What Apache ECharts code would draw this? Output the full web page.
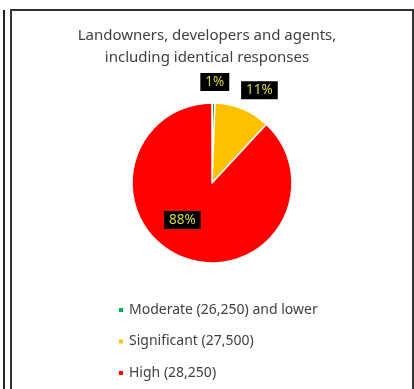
<!DOCTYPE html>
<html><head><meta charset="utf-8">
<script src="https://cdn.jsdelivr.net/npm/echarts@6/dist/echarts.min.js"></script>
<style>html,body{margin:0;padding:0;background:#fff}#c{width:414px;height:389px}</style>
</head><body><div id="c"></div>
<script>
const categories = ['Moderate (26,250) and lower', 'Significant (27,500)', 'High (28,250)'];
const values = [0.6, 11.3, 88.1];
const percentLabels = ['1%', '11%', '88%'];
const colors = ['#00b050', '#ffc000', '#ff0000'];
const labelOffsets = [[2, -58], [31, -53], [-14, -3]];

const chart = echarts.init(document.getElementById('c'), null, {renderer: 'canvas'});
chart.setOption({
  backgroundColor: '#fff',
  animation: false,
  graphic: [
    {type: 'line', shape: {x1: 4, y1: 10, x2: 4, y2: 389}, style: {stroke: '#222', lineWidth: 2}},
    {type: 'rect', shape: {x: 11, y: 10, width: 402, height: 400}, style: {fill: 'none', stroke: '#333', lineWidth: 2}}
  ],
  title: {
    text: 'Landowners, developers and agents,\nincluding identical responses',
    left: 'center', top: 20,
    textStyle: {fontFamily: 'Noto Sans', fontSize: 15, fontWeight: 'normal', color: '#404040', lineHeight: 22}
  },
  legend: {
    orient: 'vertical', left: 117, top: 301, padding: 0, height: 88,
    itemWidth: 6, itemHeight: 6, icon: 'rect', itemGap: 13.5,
    textStyle: {fontFamily: 'Noto Sans', fontSize: 14, color: '#404040', lineHeight: 18},
    data: categories
  },
  series: [{
    type: 'pie',
    center: [212, 183], radius: 80,
    startAngle: 90, clockwise: true,
    itemStyle: {borderColor: '#fff', borderWidth: 1.5},
    label: {
      show: true, position: 'inside',
      formatter: p => percentLabels[p.dataIndex],
      backgroundColor: '#000', color: '#d4d83c',
      fontFamily: 'Noto Sans', fontSize: 13.5, padding: [2, 5, 2, 5]
    },
    labelLine: {show: false},
    labelLayout: p => ({dx: labelOffsets[p.dataIndex][0], dy: labelOffsets[p.dataIndex][1]}),
    data: categories.map((c, i) => ({name: c, value: values[i], itemStyle: {color: colors[i]}}))
  }]
});
</script></body></html>
